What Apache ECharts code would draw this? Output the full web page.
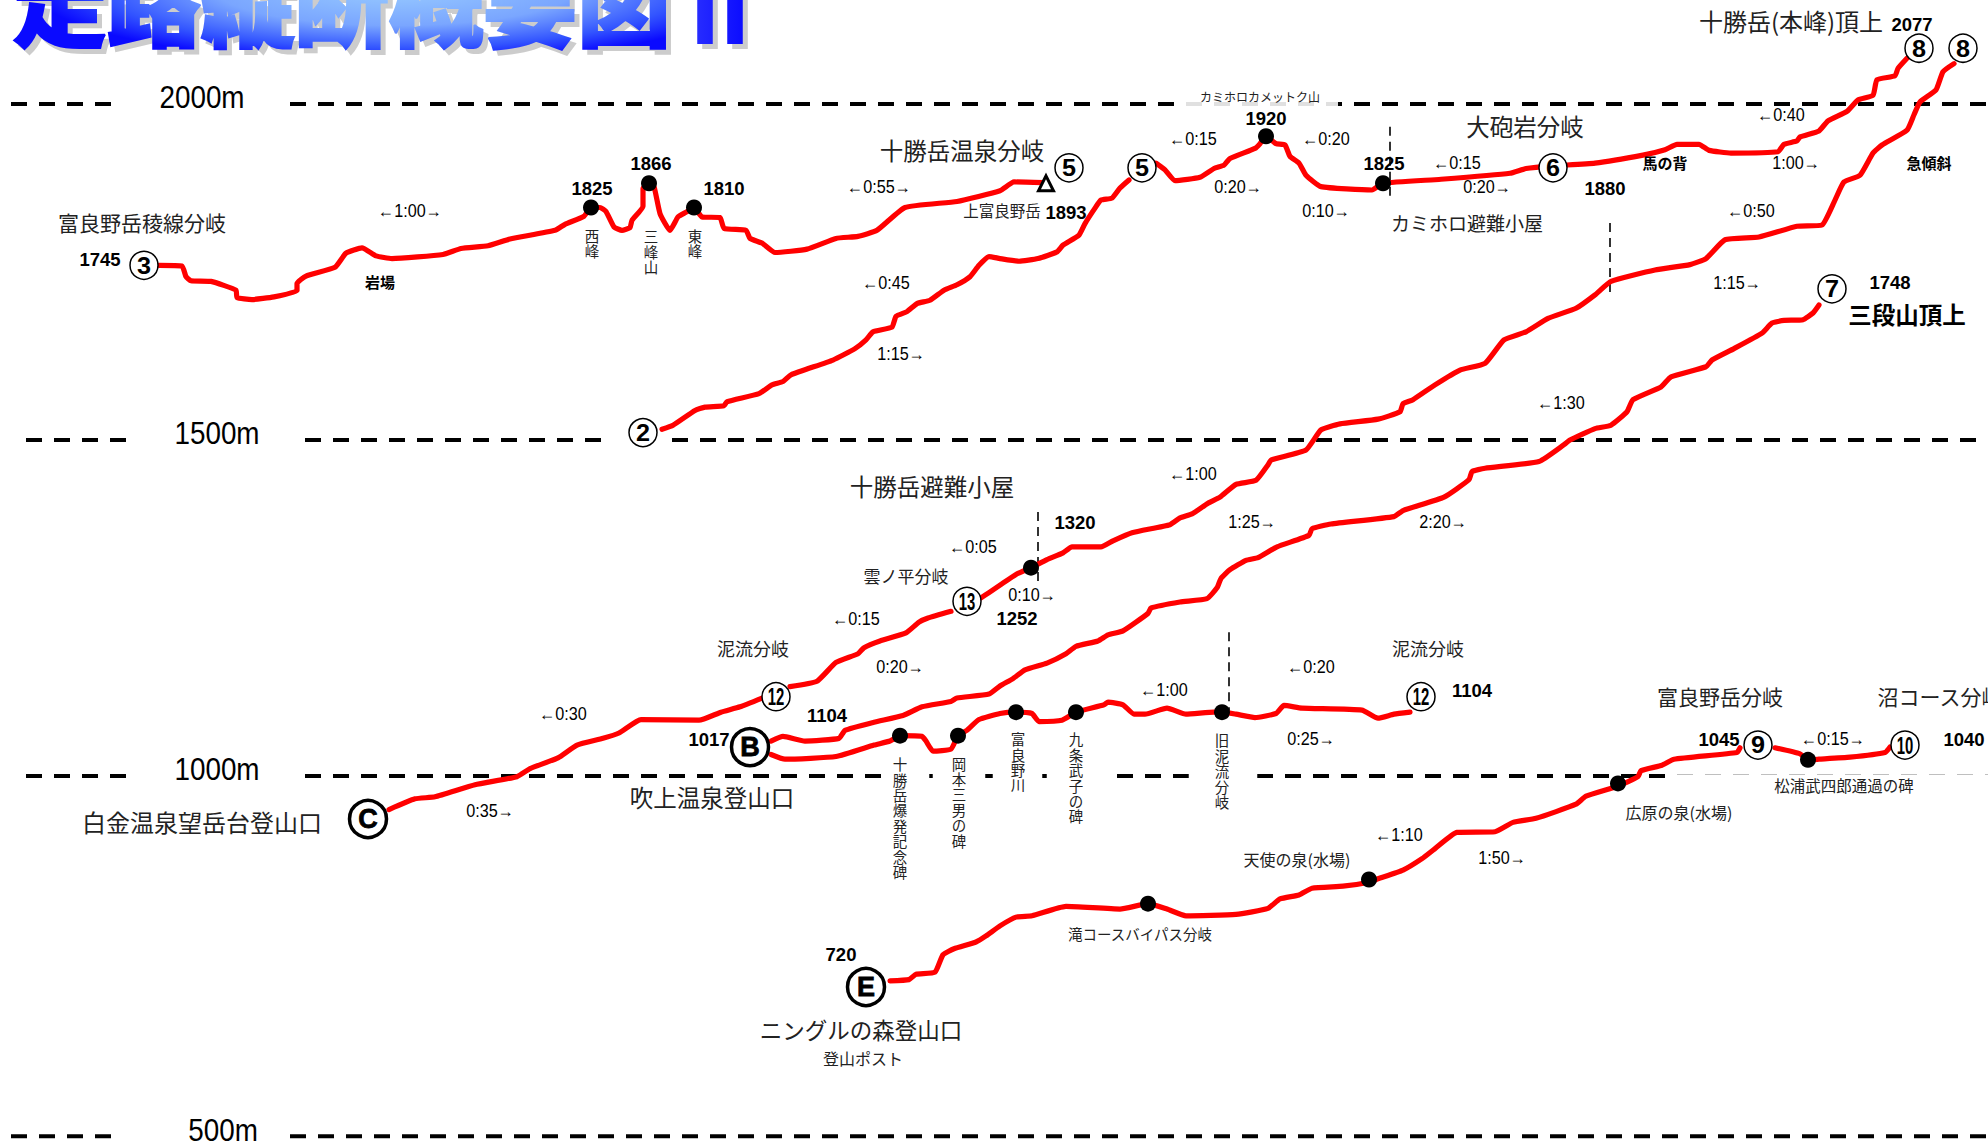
<!DOCTYPE html>
<html><head><meta charset="utf-8">
<style>html,body{margin:0;padding:0;background:#fff;overflow:hidden}#c{width:1988px;height:1145px}</style>
<script src="https://cdn.jsdelivr.net/npm/echarts@6/dist/echarts.min.js"></script>
</head><body><div id="c"></div>
<script>
// x = horizontal distance along the sheet, y = elevation on the drawing's scale (m)
const routeKamifurano = [[159,1760],[182,1759],[186,1743],[191,1737],[211,1736],[236,1723],[237,1712],[252,1709],[274,1713],[297,1722],[297,1733],[306,1744],[335,1757],[346,1778],[362,1786],[376,1774],[392,1770],[443,1776],[461,1785],[488,1789],[510,1799],[555,1812],[565,1821],[584,1833],[591,1846],[600,1846],[606,1840],[614,1817],[622,1812],[630,1816],[632,1827],[643,1848],[643,1874],[649,1882],[654,1877],[660,1837],[670,1812],[678,1832],[686,1839],[694,1846],[702,1832],[720,1831],[724,1815],[746,1812],[750,1800],[762,1793],[775,1779],[807,1784],[836,1800],[858,1803],[877,1812],[905,1846],[957,1855],[1000,1871],[1014,1884],[1043,1883]];
const routeTokachiA = [[662,1516],[673,1522],[695,1544],[705,1549],[724,1551],[727,1557],[759,1569],[772,1582],[783,1587],[791,1597],[833,1619],[855,1636],[866,1649],[873,1661],[892,1668],[896,1684],[907,1691],[917,1703],[930,1708],[944,1723],[957,1731],[970,1743],[979,1760],[989,1773],[1000,1770],[1019,1766],[1038,1770],[1057,1780],[1063,1790],[1079,1805],[1085,1822],[1095,1845],[1101,1857],[1112,1860],[1120,1875],[1129,1887]];
const routeKamihoro = [[1156,1912],[1165,1902],[1175,1886],[1200,1891],[1214,1904],[1224,1909],[1230,1919],[1255,1934],[1260,1941],[1266,1952],[1276,1941],[1285,1939],[1290,1922],[1299,1912],[1306,1894],[1321,1877],[1372,1872],[1383,1882],[1441,1888],[1510,1897],[1526,1904],[1553,1908],[1595,1912],[1643,1924],[1665,1932],[1677,1940],[1699,1940],[1709,1931],[1731,1927],[1778,1929],[1784,1940],[1797,1945],[1800,1951],[1819,1960],[1828,1975],[1847,1989],[1858,2006],[1873,2013],[1877,2036],[1895,2042],[1898,2053],[1907,2068]];
const routeBogakudai = [[389,950],[415,966],[435,969],[475,987],[517,999],[530,1011],[558,1027],[577,1046],[603,1056],[619,1064],[641,1084],[699,1083],[721,1095],[740,1103],[762,1116]];
const routeHinangoya = [[790,1133],[817,1141],[836,1169],[858,1182],[864,1191],[880,1201],[906,1213],[919,1229],[928,1235],[951,1245]];
const routeSummit = [[981,1265],[989,1273],[1000,1284],[1016,1300],[1031,1310],[1047,1322],[1063,1332],[1072,1341],[1101,1341],[1113,1350],[1132,1362],[1170,1374],[1180,1384],[1192,1390],[1208,1406],[1220,1415],[1236,1434],[1256,1440],[1268,1463],[1271,1470],[1306,1485],[1321,1515],[1340,1524],[1378,1531],[1400,1542],[1403,1554],[1413,1560],[1435,1582],[1460,1604],[1485,1614],[1504,1649],[1526,1661],[1548,1681],[1576,1696],[1595,1716],[1611,1736],[1655,1753],[1690,1761],[1706,1770],[1725,1798],[1759,1802],[1797,1818],[1822,1820],[1835,1857],[1844,1884],[1860,1894],[1873,1927],[1882,1939],[1907,1961],[1914,1984],[1920,2003],[1936,2021],[1943,2048],[1954,2060]];
const routeSandan = [[771,1052],[783,1059],[805,1052],[839,1056],[845,1068],[874,1080],[903,1090],[922,1103],[951,1111],[957,1116],[989,1122],[1000,1134],[1013,1145],[1025,1158],[1047,1168],[1066,1182],[1076,1193],[1098,1201],[1108,1210],[1123,1216],[1148,1242],[1151,1250],[1180,1259],[1207,1264],[1217,1280],[1221,1294],[1230,1307],[1246,1321],[1258,1325],[1277,1341],[1309,1358],[1312,1368],[1331,1375],[1394,1386],[1403,1395],[1444,1415],[1469,1441],[1472,1453],[1485,1458],[1539,1468],[1564,1493],[1570,1500],[1595,1517],[1611,1522],[1627,1542],[1633,1560],[1661,1579],[1671,1594],[1706,1609],[1712,1619],[1734,1636],[1762,1659],[1772,1674],[1784,1678],[1803,1679],[1813,1689],[1819,1701]];
const routeDeiryu = [[771,1032],[785,1025],[836,1029],[874,1046],[890,1052],[900,1060],[922,1059],[926,1052],[933,1037],[951,1040],[958,1060],[967,1068],[979,1084],[1000,1093],[1016,1095],[1032,1093],[1039,1081],[1062,1083],[1076,1095],[1104,1106],[1108,1110],[1123,1106],[1134,1092],[1145,1092],[1167,1101],[1186,1092],[1214,1095],[1222,1095],[1236,1092],[1255,1087],[1276,1093],[1284,1105],[1302,1101],[1362,1098],[1378,1086],[1394,1092],[1410,1095]];
const routeNingle = [[890,695],[909,697],[916,705],[935,708],[943,734],[954,743],[976,753],[986,762],[1000,777],[1016,790],[1032,792],[1066,806],[1120,802],[1148,810],[1167,802],[1186,792],[1236,794],[1268,803],[1280,817],[1299,823],[1312,833],[1343,836],[1369,842],[1378,847],[1403,860],[1422,877],[1435,892],[1457,916],[1495,917],[1513,931],[1536,937],[1576,958],[1586,970],[1618,985],[1638,999],[1641,1008],[1662,1016],[1674,1025],[1737,1035],[1740,1042]];
const routeNuma = [[1775,1042],[1800,1033],[1808,1024],[1819,1025],[1850,1028],[1885,1035],[1890,1043]];

const dashedBreaks = [[1038,1393,1283],[1390,1966,1857],[1610,1823,1713],[1229,1214,1097]];

const spans2000 = [[11,113],[290,1988]];
const spans1500 = [[26,127],[305,603],[672,1988]];
const spans1000 = [[26,127],[305,1988]];
const spans500 = [[11,113],[290,1988]];
const scaleLabels = [[202,2010,'2000m'],[217,1510,'1500m'],[217,1010,'1000m'],[223,474,'500m']];
const elevation500Line = 464;

const dots = [[591,1846],[649,1882],[694,1846],[1266,1952],[1383,1882],[1031,1310],[900,1060],[958,1060],[1016,1095],[1076,1095],[1222,1095],[1148,810],[1369,846],[1618,989],[1808,1024]];
const summitTriangle = [[1046,1882]];
const smallMarkers = [[144,1760,'3'],[1069,1905,'5'],[1142,1905,'5'],[1553,1905,'6'],[1832,1725,'7'],[1919,2083,'8'],[1963,2083,'8'],[643,1511,'2'],[776,1118,'12'],[967,1260,'13'],[1421,1118,'12'],[1758,1046,'9'],[1905,1046,'10']];
const bigMarkers = [[750,1043,'B'],[368,936,'C'],[866,686,'E']];

const placeNames = [[142,1821,'富良野岳稜線分岐',21],[962,1929,'十勝岳温泉分岐',23.5],[1791,2121,'十勝岳(本峰)頂上',24],[1525,1964,'大砲岩分岐',23.5],[1467,1820,'カミホロ避難小屋',19],[932,1429,'十勝岳避難小屋',23.5],[906,1296,'雲ノ平分岐',17],[753,1188,'泥流分岐',18],[1428,1188,'泥流分岐',18],[712,966,'吹上温泉登山口',23.5],[202,929,'白金温泉望岳台登山口',24],[861,621,'ニングルの森登山口',22.5],[863,578,'登山ポスト',16],[1720,1116,'富良野岳分岐',21],[1940,1116,'沼コース分岐',21],[1002,1839,'上富良野岳',15.5],[1140,763,'滝コースバイパス分岐',14.5],[1297,874,'天使の泉(水場)',16],[1679,944,'広原の泉(水場)',16]];
const boldNames = [[1907,1686,'三段山頂上',23.5],[1665,1912,'馬の背',15],[1929,1912,'急傾斜',15],[380,1734,'岩場',15]];
const coveredNames = [[1260,2009,'カミホロカメットク山',12],[1844,985,'松浦武四郎通過の碑',15.5]];
const verticalNames = [[592,1793,'西峰'],[651,1781,'三峰山'],[695,1793,'東峰'],[900,938,'十勝岳爆発記念碑'],[959,962,'岡本三男の碑'],[1018,1021,'富良野川'],[1076,998,'九条武子の碑'],[1222,1008,'旧泥流分岐']];
const elevationLabels = [[100,1769,'1745'],[592,1875,'1825'],[651,1912,'1866'],[724,1875,'1810'],[1912,2118,'2077'],[1266,1979,'1920'],[1384,1912,'1825'],[1605,1875,'1880'],[1890,1734,'1748'],[1075,1377,'1320'],[1017,1234,'1252'],[827,1090,'1104'],[709,1054,'1017'],[1472,1127,'1104'],[1719,1054,'1045'],[1964,1054,'1040'],[841,734,'720'],[1066,1839,'1893']];
const timeLabels = [[410,1841,'←1:00→'],[879,1876,'←0:55→'],[886,1734,'←0:45'],[901,1627,'1:15→'],[1193,1948,'←0:15'],[1326,1948,'←0:20'],[1238,1876,'0:20→'],[1326,1841,'0:10→'],[1457,1912,'←0:15'],[1487,1876,'0:20→'],[1781,1984,'←0:40'],[1796,1912,'1:00→'],[1751,1841,'←0:50'],[1737,1734,'1:15→'],[1561,1555,'←1:30'],[1193,1449,'←1:00'],[1252,1377,'1:25→'],[1443,1377,'2:20→'],[973,1341,'←0:05'],[1032,1269,'0:10→'],[856,1234,'←0:15'],[900,1162,'0:20→'],[563,1092,'←0:30'],[490,948,'0:35→'],[1311,1162,'←0:20'],[1164,1127,'←1:00'],[1311,1055,'0:25→'],[1399,912,'←1:10'],[1502,877,'1:50→'],[1833,1055,'←0:15→']];
const titleMain = '走路縦断概要図';
const titleSuffix = 'II';

const JP = '"Noto Sans CJK JP"';
const LAT = '"Liberation Sans"';
const chart = echarts.init(document.getElementById('c'), null, {renderer:'svg'});

function textSeries(rows, z, style, scaleX, extra, dy){
  return {type:'custom', z, silent:true, animation:false, clip:false,
    data: rows.map(r=>[r[0],r[1]]),
    renderItem(p, api){
      const r = rows[p.dataIndex];
      const c = api.coord([api.value(0), api.value(1)]);
      const s = Object.assign({text:r[2], x:0, y:0, align:'center', verticalAlign:'middle', fill:'#000'}, style);
      if (typeof r[3]==='number') s.fontSize = r[3];
      if (extra) Object.assign(s, extra(r));
      const off = s.padding ? (s.padding[1]-s.padding[3])/2 : 0;
      return {type:'text', x:c[0]+off, y:c[1]+(dy||0), scaleX: typeof scaleX==='function'?scaleX(r):scaleX, style:s};
    }};
}
function routeSeries(d){
  return {type:'line', z:3, data:d, showSymbol:false, smooth:0.15, silent:true, animation:false, clip:false,
    lineStyle:{color:'#ff0000', width:5.2, cap:'round', join:'round'}};
}
function gridSeries(spans, m){
  return spans.map(s=>({type:'line', z:1, data:[[s[0],m],[s[1],m]], showSymbol:false, silent:true, animation:false, clip:false,
    lineStyle:{color:'#000', width:4, type:[16,12], cap:'butt'}}));
}
const coverPads = {'カミホロカメットク山':[2,18,5,18],'松浦武四郎通過の碑':[1,144,5,109]};
const verticalPads = {'十勝岳爆発記念碑':[2,22,2,10],'岡本三男の碑':[2,19,2,19],'富良野川':[2,17,2,18],'九条武子の碑':[2,27,2,22],'旧泥流分岐':[2,28,2,26]};

const series = [
  ...gridSeries(spans2000,2000), ...gridSeries(spans1500,1500), ...gridSeries(spans1000,1000), ...gridSeries(spans500,elevation500Line),
  ...dashedBreaks.map(b=>({type:'line', z:2, data:[[b[0],b[1]],[b[0],b[2]]], showSymbol:false, silent:true, animation:false, clip:false,
    lineStyle:{color:'#000', width:1.6, type:[9,6]}})),
  textSeries(verticalNames.map(r=>[r[0],r[1],r[2].split('').join('\n')]), 2, {fontFamily:JP, fontSize:14.5, lineHeight:15.4, fill:'#222'}, 1,
    r=>{const k=r[2].replace(/\n/g,''); const v=verticalPads[k]; return v?{backgroundColor:'#fff', padding:v}:{};}),
  textSeries(coveredNames, 2, {fontFamily:JP, fill:'#222'}, 1, r=>({backgroundColor:r[2].startsWith('カ')?'rgba(255,255,255,0.88)':'#fff', padding:coverPads[r[2]]}), -1),
  ...[routeKamifurano,routeTokachiA,routeKamihoro,routeBogakudai,routeHinangoya,routeSummit,routeSandan,routeDeiryu,routeNingle,routeNuma].map(routeSeries),
  {type:'scatter', z:4, data:dots, symbol:'circle', symbolSize:16, silent:true, animation:false, clip:false, itemStyle:{color:'#000', opacity:1}},
  {type:'scatter', z:4, data:summitTriangle, symbol:'triangle', symbolSize:[15,15], silent:true, animation:false, clip:false, itemStyle:{color:'#fff', borderColor:'#000', borderWidth:3, opacity:1}},
  {type:'scatter', z:5, data:smallMarkers.map(r=>[r[0],r[1]]), symbol:'circle', symbolSize:28, silent:true, animation:false, clip:false, itemStyle:{color:'#fff', borderColor:'#000', borderWidth:1.5, opacity:1}},
  {type:'scatter', z:5, data:bigMarkers.map(r=>[r[0],r[1]]), symbol:'circle', symbolSize:37, silent:true, animation:false, clip:false, itemStyle:{color:'#fff', borderColor:'#000', borderWidth:3.5, opacity:1}},
  textSeries(smallMarkers, 6, {fontFamily:LAT, fontWeight:'bold', fontSize:24}, r=>r[2].length>1?0.62:1.05),
  textSeries(bigMarkers, 6, {fontFamily:LAT, fontWeight:'bold', fontSize:27, stroke:'#000', lineWidth:0.8}, 1),
  textSeries(scaleLabels, 6, {fontFamily:LAT, fontSize:32}, 0.87),
  textSeries(placeNames, 6, {fontFamily:JP, fill:'#222'}, 1, null, -2),
  textSeries(boldNames, 6, {fontFamily:JP, fontWeight:'bold'}, 1, null, -1),
  textSeries(elevationLabels, 6, {fontFamily:LAT, fontWeight:'bold', fontSize:18.5}, 1),
  textSeries(timeLabels, 6, {fontFamily:LAT, fontSize:18}, 0.9)
];

const titleFill = {type:'radial', x:0.58, y:0.42, r:0.55, colorStops:[{offset:0,color:'#99ccff'},{offset:0.5,color:'#7aa6ff'},{offset:0.8,color:'#3355ff'},{offset:1,color:'#0a0aff'}]};
const suffixFill = {type:'linear', x:0, y:0, x2:1, y2:0, colorStops:[{offset:0,color:'#2a30ff'},{offset:1,color:'#0808ff'}]};
const titleBase = {text:titleMain, font:'900 94px '+JP, verticalAlign:'middle', align:'left'};
const suffixBase = {text:titleSuffix, font:'bold 108px '+LAT, verticalAlign:'middle', align:'left'};

chart.setOption({
  backgroundColor:'#fff', animation:false,
  grid:{left:0, right:0, top:3.2, height:1135.68},
  xAxis:{type:'value', min:0, max:1988, show:false},
  yAxis:{type:'value', min:460, max:2150, show:false},
  tooltip:{show:false}, legend:{show:false},
  graphic:{elements:[
    {type:'text', z:10, x:18, y:4, style:Object.assign({}, titleBase, {fill:'#cccccc', stroke:'#cccccc', lineWidth:2})},
    {type:'text', z:11, x:13, y:-1, style:Object.assign({}, titleBase, {fill:'#2233ff', stroke:'#2233ff', lineWidth:2})},
    {type:'text', z:10, x:695, y:11, style:Object.assign({}, suffixBase, {fill:'#cccccc'})},
    {type:'text', z:11, x:690, y:6, style:Object.assign({}, suffixBase, {fill:'#1a1aff'})}
  ]},
  series
});

// The text shapes accept a gradient paint directly under the SVG renderer.
const zr = chart.getZr();
zr.storage.getDisplayList(true, true).forEach(el=>{
  const st = el.style;
  if (!st || st.fill === '#cccccc') return;
  if (st.text === titleMain) { st.fill = titleFill; st.stroke = titleFill; el.dirty(); }
  if (st.text === titleSuffix) { st.fill = suffixFill; el.dirty(); }
});
zr.refresh();
</script></body></html>
